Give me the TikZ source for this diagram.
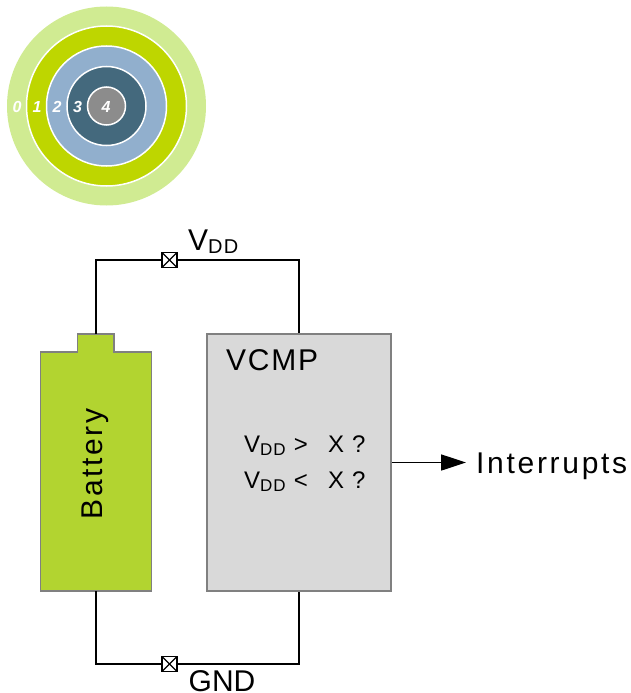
\documentclass[tikz,border=0pt]{standalone}
\usepackage{fontspec}
\usetikzlibrary{arrows.meta}
\setmainfont{Liberation Sans}[LetterSpace=6]
\newfontfamily\plainfont{Liberation Sans}
\newfontfamily\widefont{Liberation Sans}[LetterSpace=9]
\definecolor{c0}{RGB}{208,235,146}
\definecolor{c1}{RGB}{190,214,0}
\definecolor{c2}{RGB}{145,175,205}
\definecolor{c3}{RGB}{68,105,125}
\definecolor{c4}{RGB}{140,140,140}
\definecolor{c5}{RGB}{178,212,48}
\definecolor{c6}{RGB}{217,217,217}
\definecolor{c7}{RGB}{128,128,128}
\newcommand{\bigsize}{\fontsize{30}{36}\selectfont}
\newcommand{\midsize}{\fontsize{24}{29}\selectfont}
\newcommand{\vddbig}{V\raisebox{-3.5pt}{\fontsize{20}{20}\selectfont DD}}
\newcommand{\vddmid}{V\raisebox{-3pt}{\fontsize{17}{17}\selectfont DD}}
\tikzset{
    ring/.style={draw=white,line width=1.5pt},
    lvltext/.style={text=white,inner sep=0pt,font=\plainfont\fontsize{16}{16}\selectfont\bfseries\itshape},
    bigtext/.style={inner sep=0pt,font=\bigsize},
    wire/.style={line width=1.7pt},
    pad/.style={draw,line width=1.7pt,fill=white,minimum size=15pt,inner sep=0pt,
        path picture={
            \draw[line width=1.2pt] (path picture bounding box.north west) -- (path picture bounding box.south east);
            \draw[line width=1.2pt] (path picture bounding box.north east) -- (path picture bounding box.south west);
        }},
}
\begin{document}
\begin{tikzpicture}[x=1pt,y=-1pt]
    \useasboundingbox (0,0) rectangle (630,693);
    \begin{scope} %levels
        \fill[c0] (106.5,106) circle (99.5);
        \draw[ring,fill=c1] (106.5,106) circle (80);
        \draw[ring,fill=c2] (106.5,106) circle (60);
        \draw[ring,fill=c3] (106.5,106) circle (39.5);
        \draw[ring,fill=c4] (106.5,106) circle (19);
        \node[lvltext] (lvl0) at (17,106.5) {0};
        \node[lvltext] (lvl1) at (37,106.5) {1};
        \node[lvltext] (lvl2) at (57,106.5) {2};
        \node[lvltext] (lvl3) at (77.5,106.5) {3};
        \node[lvltext] (lvl4) at (106,106.5) {4};
    \end{scope}
    % battery outline has a nub on top, so it is a plain path
    \draw[draw=c7,line width=1.5pt,fill=c5] (40.5,352) -- (77.5,352) -- (77.5,334) -- (114,334)
        -- (114,352) -- (151.5,352) -- (151.5,591) -- (40.5,591) -- cycle;
    \coordinate (battplus) at (96,334);
    \coordinate (battminus) at (96,591);
    \node[bigtext,rotate=90] (battery) at (95,464) {\widefont Battery};
    % comparator block
    \node[draw=c7,line width=1.5pt,fill=c6,minimum width=184pt,minimum height=257pt,inner sep=0pt] (vcmp) at (299,462.5) {};
    \node[bigtext,anchor=base west] (vcmpname) at (226,370) {VCMP};
    \node[inner sep=0pt,anchor=base west,font=\midsize] (cmphigh) at (244,452) {\vddmid{} > \ \,X ?};
    \node[inner sep=0pt,anchor=base west,font=\midsize] (cmplow) at (244,488) {\vddmid{} < \ \,X ?};
    % pads on the supply lines
    \node[pad] (vddpad) at (169.5,260) {};
    \node[pad] (gndpad) at (169.5,664) {};
    \node[bigtext,anchor=base west] (vddname) at (188,250) {\vddbig};
    \node[bigtext,anchor=base west] (gndname) at (188.5,691) {\plainfont GND};
    \node[bigtext,anchor=base west] (interrupts) at (476,473) {\widefont Interrupts};
    \coordinate (arrowend) at (466,462.5);
    \draw[wire] (battplus) |- (vddpad);
    \draw[wire] (vddpad) -| (vcmp.north);
    \draw[wire] (battminus) |- (gndpad);
    \draw[wire] (gndpad) -| (vcmp.south);
    \draw[wire,-{Triangle[length=25pt,width=16pt]}] (vcmp.east) -- (arrowend);
\end{tikzpicture}
\end{document}
